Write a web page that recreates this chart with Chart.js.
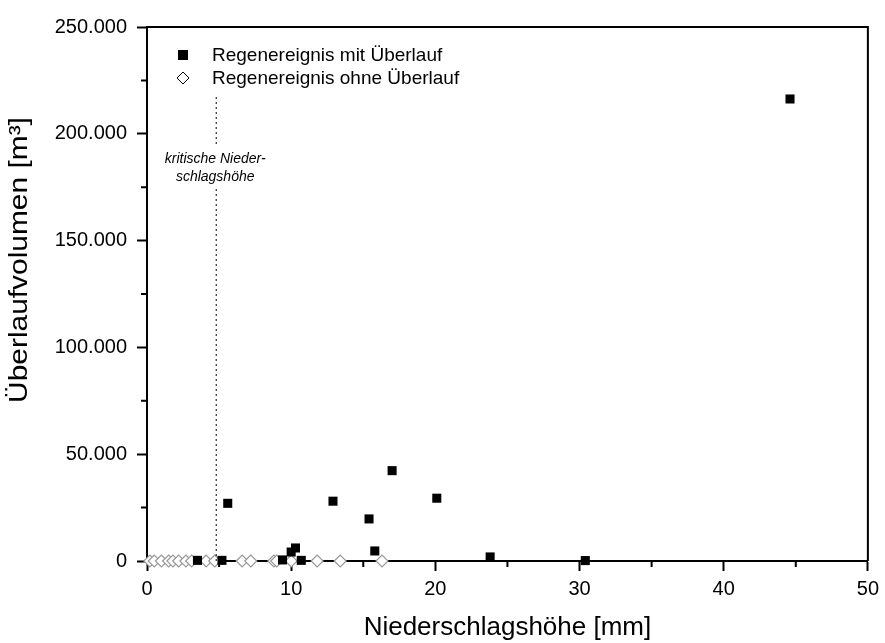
<!DOCTYPE html>
<html>
<head>
<meta charset="utf-8">
<script src="https://cdn.jsdelivr.net/npm/chart.js@4.4.0/dist/chart.umd.min.js"></script>
<style>
  html, body { margin: 0; padding: 0; background: #fff; }
</style>
</head>
<body>
<canvas id="chart" width="885" height="643"></canvas>
<script>
// rain events with overflow
const mitX = [3.5, 5.2, 5.6, 9.4, 10.0, 10.3, 10.7, 12.9, 15.4, 15.8, 17.0, 20.1, 23.8, 30.4, 44.6];
const mitY = [300, 300, 27000, 500, 4200, 6100, 300, 28000, 19700, 4700, 42300, 29400, 1900, 200, 216300];
// rain events without overflow
const ohneX = [0.2, 0.5, 1.0, 1.5, 1.8, 2.2, 2.7, 3.1, 4.1, 4.7, 6.6, 7.2, 8.8, 9.0, 10.0, 11.8, 13.4, 16.3];
const ohneY = [0, 0, 0, 0, 0, 0, 0, 0, 0, 0, 0, 0, 0, 0, 0, 0, 0, 0];
const seriesLabels = ['Regenereignis mit Überlauf', 'Regenereignis ohne Überlauf'];
const critLabel = ['kritische Nieder-', 'schlagshöhe'];
const critValue = 4.8;
const xTitle = 'Niederschlagshöhe [mm]';
const yTitle = 'Überlaufvolumen [m³]';

const FONT = "'Liberation Sans', Arial, sans-serif";

function toPoints(xs, ys) {
  return xs.map((x, i) => ({ x: x, y: ys[i] }));
}

function fmt(v) {
  return String(v).replace(/\B(?=(\d{3})+(?!\d))/g, '.');
}

const extras = {
  id: 'extras',
  afterDraw(chart) {
    const c = chart.ctx;
    const a = chart.chartArea;
    const xs = chart.scales.x;
    const ys = chart.scales.y;
    c.save();
    // top and right frame
    c.strokeStyle = '#000';
    c.lineWidth = 2;
    c.beginPath();
    c.moveTo(a.left, a.top);
    c.lineTo(a.right, a.top);
    c.lineTo(a.right, a.bottom);
    c.stroke();

    // minor ticks
    c.beginPath();
    for (let v = 5; v < 50; v += 10) {
      const px = xs.getPixelForValue(v);
      c.moveTo(px, a.bottom);
      c.lineTo(px, a.bottom + 6);
    }
    for (let v = 25000; v < 250000; v += 50000) {
      const py = ys.getPixelForValue(v);
      c.moveTo(a.left, py);
      c.lineTo(a.left - 6, py);
    }
    c.stroke();

    // critical rain height
    const cx = xs.getPixelForValue(critValue);
    c.lineWidth = 1;
    c.setLineDash([2, 3]);
    c.beginPath();
    c.moveTo(cx, a.top + 70);
    c.lineTo(cx, a.top + 120);
    c.moveTo(cx, a.top + 162);
    c.lineTo(cx, a.bottom);
    c.stroke();
    c.setLineDash([]);
    c.fillStyle = '#000';
    c.font = 'italic 14px ' + FONT;
    c.textAlign = 'center';
    c.textBaseline = 'middle';
    c.fillText(critLabel[0], cx - 1, a.top + 132);
    c.fillText(critLabel[1], cx - 1, a.top + 150);

    // legend
    c.font = '19px ' + FONT;
    c.textAlign = 'left';
    chart.data.datasets.forEach((ds, i) => {
      const lx = a.left + 36;
      const ly = a.top + 28 + i * 23;
      if (ds.pointStyle === 'rect') {
        c.fillStyle = ds.backgroundColor;
        c.fillRect(lx - 5, ly - 5, 10, 10);
      } else {
        c.fillStyle = '#fff';
        c.strokeStyle = '#000';
        c.lineWidth = 1;
        c.beginPath();
        c.moveTo(lx - 6, ly);
        c.lineTo(lx, ly - 6);
        c.lineTo(lx + 6, ly);
        c.lineTo(lx, ly + 6);
        c.closePath();
        c.fill();
        c.stroke();
      }
      c.fillStyle = '#000';
      c.fillText(ds.label, a.left + 65, ly + 1);
    });

    // axis titles
    c.textAlign = 'center';
    c.font = '26px ' + FONT;
    c.fillText(xTitle, (a.left + a.right) / 2, 628);
    c.translate(20, 260);
    c.rotate(-Math.PI / 2);
    c.scale(1.15, 1);
    c.font = '26px ' + FONT;
    c.fillText(yTitle, 0, 0);
    c.restore();
  }
};

new Chart(document.getElementById('chart'), {
  type: 'scatter',
  data: {
    datasets: [
      {
        label: seriesLabels[0],
        data: toPoints(mitX, mitY),
        pointStyle: 'rect',
        pointRadius: 6.4,
        backgroundColor: '#000',
        borderColor: '#000',
        borderWidth: 0,
        clip: false,
      },
      {
        label: seriesLabels[1],
        data: toPoints(ohneX, ohneY),
        pointStyle: 'rectRot',
        pointRadius: 6,
        backgroundColor: '#fff',
        borderColor: '#999',
        borderWidth: 1.2,
        clip: false,
      },
    ],
  },
  options: {
    responsive: false,
    animation: false,
    layout: { padding: { top: 27, right: 17, left: 0, bottom: 0 } },
    plugins: {
      legend: { display: false },
      tooltip: { enabled: false },
    },
    scales: {
      x: {
        type: 'linear',
        min: 0,
        max: 50,
        afterFit: (s) => { s.height = 82; },
        border: { color: '#000', width: 2 },
        grid: {
          drawOnChartArea: false,
          tickLength: 10,
          tickWidth: 2,
          tickColor: (ctx) => (ctx.tick && ctx.tick.value % 10 === 0 ? '#000' : 'rgba(0,0,0,0)'),
        },
        ticks: {
          stepSize: 5,
          autoSkip: false,
          maxRotation: 0,
          padding: 6,
          color: '#000',
          font: { family: FONT, size: 20 },
          callback: (v) => (v % 10 === 0 ? v : ''),
        },
      },
      y: {
        type: 'linear',
        min: 0,
        max: 250000,
        afterFit: (s) => { s.width = 147; },
        border: { color: '#000', width: 2 },
        grid: {
          drawOnChartArea: false,
          tickLength: 10,
          tickWidth: 2,
          tickColor: (ctx) => (ctx.tick && ctx.tick.value % 50000 === 0 ? '#000' : 'rgba(0,0,0,0)'),
        },
        ticks: {
          stepSize: 25000,
          autoSkip: false,
          padding: 10,
          color: '#000',
          font: { family: FONT, size: 20 },
          callback: (v) => (v % 50000 === 0 ? fmt(v) : ''),
        },
      },
    },
  },
  plugins: [extras],
});
</script>
</body>
</html>
